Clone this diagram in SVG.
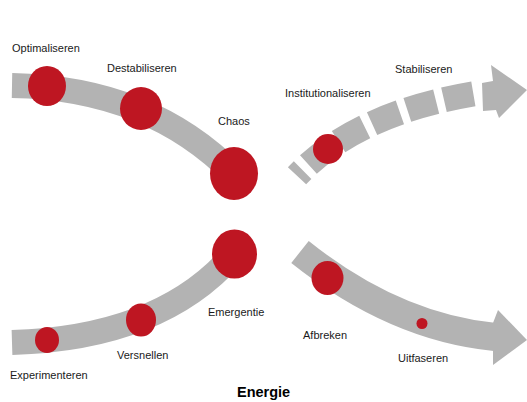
<svg xmlns="http://www.w3.org/2000/svg" width="527" height="402" viewBox="0 0 527 402">
<style>
.band{fill:none;stroke:#b3b3b3;stroke-linecap:butt}
.head{fill:#b3b3b3}
.dot{fill:#be1622}
.lbl{font-family:"Liberation Sans",Arial,sans-serif;font-size:11px;fill:#1a1a1a}
.title{font-family:"Liberation Sans",Arial,sans-serif;font-size:14.5px;font-weight:bold;fill:#000}
</style>
<rect width="527" height="402" fill="#fff"/>
<g id="connectors">
  <path class="band" d="M 12 85.5 Q 150 88 235 175" stroke-width="25"/>
  <path class="band" d="M 12 342.5 Q 160 338 232 256" stroke-width="25"/>
  <path class="band" d="M 295 178 Q 355.5 111.5 485 92" stroke-width="25" stroke-dasharray="0 3 8 8 30 8 30 8 30 8 30 8 30 100"/>
  <polygon class="head" points="482,83 493,81 491,65 527,90 499,118 496,110 483,111"/>
  <path class="band" d="M 300 252 Q 394 327 495 337" stroke-width="28"/>
  <polygon class="head" points="493,323 498,310 527,340 493,365 493,351"/>
</g>
<g id="optimaliseren">
  <ellipse class="dot" cx="47" cy="86" rx="19" ry="20"/>
  <text class="lbl" x="12" y="52">Optimaliseren</text>
</g>
<g id="destabiliseren">
  <ellipse class="dot" cx="141" cy="108.5" rx="21" ry="21.5"/>
  <text class="lbl" x="107" y="72">Destabiliseren</text>
</g>
<g id="chaos">
  <ellipse class="dot" cx="234" cy="173.5" rx="24" ry="26.5"/>
  <text class="lbl" x="218" y="125">Chaos</text>
</g>
<g id="institutionaliseren">
  <circle class="dot" cx="328" cy="149" r="15"/>
  <text class="lbl" x="285" y="97">Institutionaliseren</text>
</g>
<g id="stabiliseren">
  <text class="lbl" x="395" y="73">Stabiliseren</text>
</g>
<g id="emergentie">
  <ellipse class="dot" cx="234.5" cy="254" rx="22.5" ry="24.5"/>
  <text class="lbl" x="208" y="316">Emergentie</text>
</g>
<g id="versnellen">
  <ellipse class="dot" cx="141" cy="320" rx="15" ry="16.5"/>
  <text class="lbl" x="117" y="359">Versnellen</text>
</g>
<g id="experimenteren">
  <ellipse class="dot" cx="47" cy="340" rx="12" ry="13"/>
  <text class="lbl" x="10" y="379">Experimenteren</text>
</g>
<g id="afbreken">
  <ellipse class="dot" cx="327.5" cy="278" rx="16" ry="17"/>
  <text class="lbl" x="303" y="339">Afbreken</text>
</g>
<g id="uitfaseren">
  <circle class="dot" cx="422" cy="323.5" r="5.5"/>
  <text class="lbl" x="398" y="362">Uitfaseren</text>
</g>
<g id="energie">
  <text class="title" x="237" y="397">Energie</text>
</g>
</svg>
